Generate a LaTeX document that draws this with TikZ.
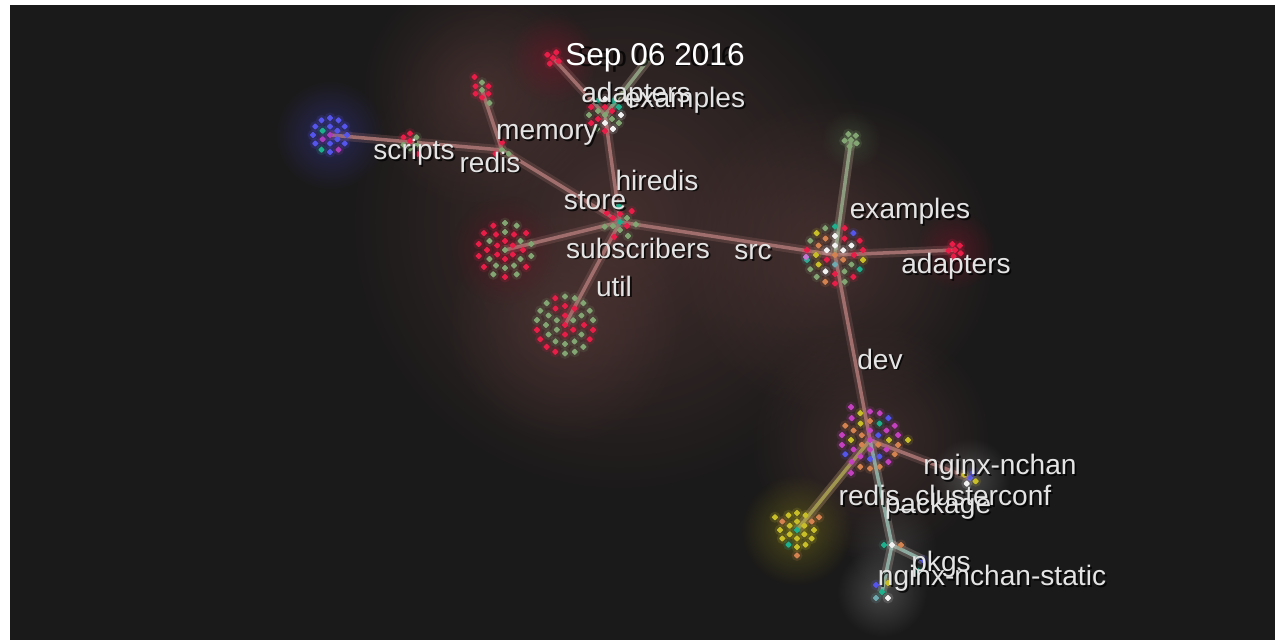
\documentclass[tikz,border=0pt]{standalone}
\usepackage{fontspec}
\setmainfont{Liberation Sans}
\usetikzlibrary{fadings,calc}
\tikzfading[name=softglow, inner color=transparent!0, outer color=transparent!100]
\definecolor{bg}{RGB}{27,26,26}
\definecolor{haze}{RGB}{95,62,60}
\definecolor{dred}{RGB}{232,30,72}
\definecolor{dgreen}{RGB}{130,165,115}
\definecolor{dwhite}{RGB}{242,242,242}
\definecolor{dcyan}{RGB}{30,175,140}
\definecolor{dteal}{RGB}{110,170,175}
\definecolor{dpurple}{RGB}{170,60,190}
\definecolor{dblue}{RGB}{85,85,235}
\definecolor{dmag}{RGB}{195,65,190}
\definecolor{dorange}{RGB}{212,130,80}
\definecolor{dyellow}{RGB}{200,190,40}
\definecolor{epink}{RGB}{160,110,108}
\definecolor{egreen}{RGB}{140,155,125}
\definecolor{eyellow}{RGB}{160,150,80}
\definecolor{eteal}{RGB}{140,170,160}
\definecolor{txt}{RGB}{228,228,228}
\pgfmathdeclarerandomlist{rg}{{dred}{dgreen}}
\pgfmathdeclarerandomlist{rgw}{{dred}{dgreen}{dgreen}{dred}{dwhite}{dcyan}}
\pgfmathdeclarerandomlist{blu}{{dblue}{dblue}{dblue}{dblue}{dblue}{dblue}{dblue}{dpurple}{dwhite}{dcyan}}
\pgfmathdeclarerandomlist{srcl}{{dwhite}{dwhite}{dwhite}{dgreen}{dgreen}{dred}{dred}{dorange}{dyellow}{dblue}{dcyan}{dteal}}
\pgfmathdeclarerandomlist{devl}{{dmag}{dmag}{dmag}{dmag}{dorange}{dorange}{dyellow}{dyellow}{dblue}{dcyan}}
\pgfmathdeclarerandomlist{yel}{{dyellow}{dyellow}{dyellow}{dyellow}{dyellow}{dorange}{dcyan}}
\pgfmathdeclarerandomlist{redl}{{dred}}
\pgfmathdeclarerandomlist{grn}{{dgreen}}
\pgfmathdeclarerandomlist{mix}{{dyellow}{dorange}{dcyan}{dblue}{dwhite}}
\newcommand\filedot[2]{%
  \fill[#2,opacity=0.15] (#1) circle (5.5);
  \fill[#2,rounded corners=0.5pt] (#1) +(0,3.4) -- +(3.4,0) -- +(0,-3.4) -- +(-3.4,0) -- cycle;}
\newcommand\dotcluster[4]{% #1 centre, #2 number of files, #3 colour list, #4 spacing
  \pgfmathrandomitem{\dc}{#3}\filedot{#1}{\dc}
  \foreach \k in {1,2,3,4}{
    \pgfmathtruncatemacro\before{1+3*(\k-1)*\k}
    \pgfmathtruncatemacro\mm{min(6*\k,#2-\before)}
    \ifnum\mm>0
      \foreach \j in {1,...,\mm}{
        \pgfmathrandomitem{\dc}{#3}
        \path (#1) ++({360*\j/\mm+30*\k}:{\k*#4}) coordinate (tmpd);
        \filedot{tmpd}{\dc}
      }
    \fi
  }}
\newcommand\glow[4]{\fill[#2,path fading=softglow,opacity=#4] (#1) circle (#3);}
\begin{document}
\begin{tikzpicture}[x=0.03cm,y=-0.03cm,
  conn/.style={draw=epink,line width=3pt,preaction={draw=epink,line width=8pt,opacity=0.25}},
  conng/.style={conn,draw=egreen,preaction={draw=egreen,line width=8pt,opacity=0.2}},
  conny/.style={conn,draw=eyellow,preaction={draw=eyellow,line width=8pt,opacity=0.2}},
  connt/.style={conn,draw=eteal,preaction={draw=eteal,line width=8pt,opacity=0.2}},
  lbl/.style={text=txt,font=\fontsize{24}{28}\selectfont,inner sep=0pt},
  lblsh/.style={text=black,opacity=0.75,font=\fontsize{24}{28}\selectfont,inner sep=0pt},
  datelbl/.style={text=white,font=\fontsize{27}{31}\selectfont,inner sep=0pt}]
\pgfmathsetseed{7}
\useasboundingbox (0,0) rectangle (1276,640);
\fill[white] (0,0) rectangle (1276,640);
\fill[bg] (10,5) rectangle (1275,640);
% cluster centres
\coordinate (blue) at (330,135);
\coordinate (scr) at (410,141);
\coordinate (red) at (502,150);
\coordinate (mem) at (482,90);
\coordinate (hir) at (605,115);
\coordinate (redtop) at (553,58);
\coordinate (extop) at (648,60);
\coordinate (store) at (620,222);
\coordinate (subs) at (505,250);
\coordinate (util) at (565,325);
\coordinate (src) at (835,255);
\coordinate (exr) at (851,140);
\coordinate (adr) at (955,250);
\coordinate (dev) at (870,440);
\coordinate (ngx) at (970,478);
\coordinate (yel) at (797,530);
\coordinate (pkg) at (892,545);
\coordinate (pkgs) at (923,560);
\coordinate (stat) at (882,592);
% haze and glows
\begin{scope}
\clip (10,5) rectangle (1275,640);
\glow{store}{haze}{270}{0.6}
\glow{mem}{haze}{120}{0.5}
\glow{util}{haze}{120}{0.5}
\glow{src}{haze}{160}{0.55}
\glow{dev}{haze}{120}{0.5}
\glow{blue}{dblue!60!black}{55}{0.55}
\glow{yel}{dyellow!60!black}{55}{0.55}
\glow{ngx}{white!45!black}{40}{0.5}
\glow{stat}{white!45!black}{45}{0.5}
\glow{pkg}{white!30!black}{45}{0.5}
\glow{adr}{dred!55!black}{40}{0.45}
\glow{redtop}{dred!55!black}{45}{0.45}
\glow{exr}{dgreen!50!black}{30}{0.5}
\glow{subs}{dred!45!black}{55}{0.45}
\end{scope}
% connectors
\draw[conn] (red) -- (blue);
\draw[conn] (red) -- (mem);
\draw[conn] (store) -- (red);
\draw[conn] (store) -- (hir);
\draw[conn] (hir) -- (redtop);
\draw[conng] (hir) -- (extop);
\draw[conn] (store) -- (subs);
\draw[conn] (store) -- (util);
\draw[conn] (store) -- (src);
\draw[conng] (src) -- (exr);
\draw[conn] (src) -- (adr);
\draw[conn] (src) -- (dev);
\draw[conn] (dev) -- (ngx);
\draw[conny] (dev) -- (yel);
\draw[connt] (dev) -- (pkg);
\draw[connt] (pkg) -- (pkgs);
\draw[connt] (pkg) -- (stat);
% files
\dotcluster{blue}{19}{blu}{8.5}
\dotcluster{scr}{8}{rg}{7.5}
\dotcluster{red}{4}{rg}{7.5}
\dotcluster{mem}{9}{rg}{7.5}
\dotcluster{redtop}{5}{redl}{6.5}
\dotcluster{hir}{19}{rgw}{8}
\dotcluster{store}{14}{rgw}{8}
\dotcluster{subs}{33}{rg}{9}
\dotcluster{util}{37}{rg}{9.5}
\dotcluster{src}{37}{srcl}{9.5}
\dotcluster{exr}{6}{grn}{6.5}
\dotcluster{adr}{6}{redl}{6.5}
\dotcluster{dev}{40}{devl}{9.5}
\dotcluster{ngx}{5}{mix}{6.5}
\dotcluster{yel}{22}{yel}{8.5}
\coordinate (srcd) at (806,257);
\filedot{srcd}{dpurple!70!white}
\coordinate (pk1) at (884,545);
\coordinate (pk3) at (901,545);
\filedot{pk1}{dcyan}\filedot{pkg}{dwhite}\filedot{pk3}{dorange}
\filedot{pkgs}{dblue}
\coordinate (pks2) at (918,571);
\filedot{pks2}{dcyan}
\coordinate (st1) at (876,585);
\coordinate (st2) at (888,583);
\coordinate (st3) at (876,598);
\coordinate (st4) at (888,598);
\filedot{st1}{dblue}\filedot{st2}{dyellow}\filedot{stat}{dcyan}\filedot{st3}{dteal}\filedot{st4}{dwhite}
% labels: shadows, then text
\foreach \x/\y/\t in {636/95/adapters,685/100/examples,547/135/memory,414/152/scripts,490/162/redis,
  657/180/hiredis,595/201/store,638/248/subscribers,753/252/src,614/286/util,910/211/examples,
  956/266/adapters,880/359/dev,1000/467/nginx-nchan,945/498/redis\_clusterconf,938/506/package,
  941/564/pkgs,992/578/nginx-nchan-static}
  {\node[lblsh] at (\x+1.8,\y+1.8) {\t};}
\node[lblsh] at (656.8,59.8) {Sep 06 2016};
\foreach \n/\x/\y/\t in {l1/636/95/adapters,l2/685/100/examples,l3/547/135/memory,l4/414/152/scripts,l5/490/162/redis,
  l6/657/180/hiredis,l7/595/201/store,l8/638/248/subscribers,l9/753/252/src,l10/614/286/util,l11/910/211/examples,
  l12/956/266/adapters,l13/880/359/dev,l14/1000/467/nginx-nchan,l15/945/498/redis\_clusterconf,l16/938/506/package,
  l17/941/564/pkgs,l18/992/578/nginx-nchan-static}
  {\node[lbl] (\n) at (\x,\y) {\t};}
\node[datelbl] (date) at (655,58) {Sep 06 2016};
\end{tikzpicture}
\end{document}
